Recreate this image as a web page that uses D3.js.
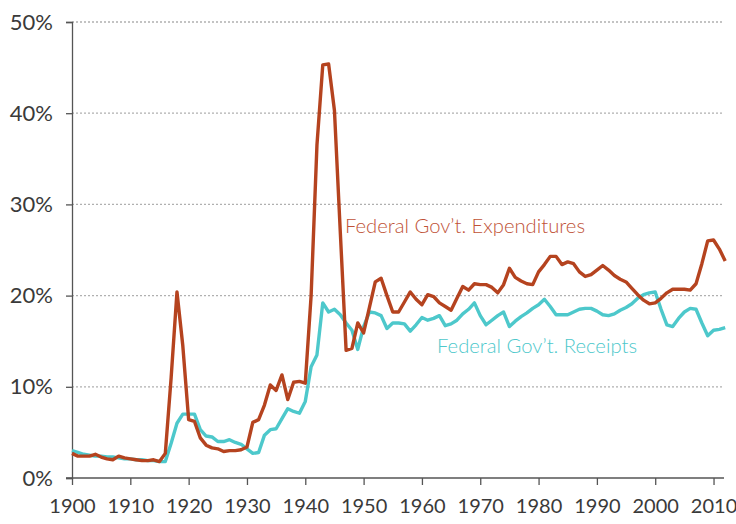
<!DOCTYPE html>
<html>
<head>
<meta charset="utf-8">
<script src="https://cdn.jsdelivr.net/npm/d3@7"></script>
<style>
  html, body { margin: 0; padding: 0; background: #fff; }
  svg { display: block; }
  text { font-family: Lato, "Open Sans", sans-serif; }
</style>
</head>
<body>
<svg id="chart" width="736" height="524"></svg>
<script>
const years = d3.range(1900, 2013);
const expenditures = [
  2.7, 2.4, 2.4, 2.4, 2.6, 2.3, 2.1, 2.0, 2.4, 2.2,
  2.1, 2.0, 1.9, 1.9, 2.0, 1.8, 2.7, 11.0, 20.4, 14.5,
  6.4, 6.2, 4.4, 3.6, 3.3, 3.2, 2.9, 3.0, 3.0, 3.1,
  3.4, 6.1, 6.4, 8.0, 10.2, 9.6, 11.3, 8.6, 10.5, 10.6,
  10.4, 20.0, 36.5, 45.3, 45.4, 40.3, 27.0, 14.0, 14.2, 17.0,
  15.9, 18.7, 21.5, 21.9, 20.0, 18.2, 18.2, 19.3, 20.4, 19.6,
  19.0, 20.1, 19.9, 19.2, 18.8, 18.4, 19.7, 21.0, 20.6, 21.3,
  21.2, 21.2, 20.9, 20.3, 21.2, 23.0, 22.0, 21.6, 21.3, 21.2,
  22.6, 23.4, 24.3, 24.3, 23.4, 23.7, 23.5, 22.6, 22.1, 22.3,
  22.8, 23.3, 22.8, 22.2, 21.8, 21.5, 20.8, 20.1, 19.5, 19.1,
  19.2, 19.7, 20.3, 20.7, 20.7, 20.7, 20.6, 21.3, 23.5, 26.0,
  26.1, 25.1, 23.8
];
const receipts = [
  3.0, 2.8, 2.6, 2.5, 2.4, 2.4, 2.3, 2.3, 2.2, 2.1,
  2.1, 2.0, 2.0, 1.9, 1.9, 1.8, 1.8, 3.8, 6.0, 7.0,
  7.0, 7.0, 5.3, 4.6, 4.5, 4.0, 4.0, 4.2, 3.9, 3.7,
  3.2, 2.7, 2.8, 4.7, 5.3, 5.4, 6.5, 7.6, 7.3, 7.1,
  8.4, 12.2, 13.5, 19.2, 18.2, 18.5, 17.9, 17.0, 16.2, 14.1,
  16.6, 18.2, 18.1, 17.8, 16.4, 17.0, 17.0, 16.9, 16.1, 16.8,
  17.6, 17.3, 17.5, 17.8, 16.7, 16.9, 17.3, 18.0, 18.5, 19.2,
  17.8, 16.8, 17.3, 17.8, 18.2, 16.6, 17.2, 17.7, 18.1, 18.6,
  19.0, 19.6, 18.8, 17.9, 17.9, 17.9, 18.2, 18.5, 18.6, 18.6,
  18.3, 17.9, 17.8, 18.0, 18.4, 18.7, 19.1, 19.7, 20.1, 20.3,
  20.4, 18.5, 16.8, 16.6, 17.5, 18.2, 18.6, 18.5, 17.0, 15.6,
  16.2, 16.3, 16.5
];
const xTicks = [1900, 1910, 1920, 1930, 1940, 1950, 1960, 1970, 1980, 1990, 2000, 2010];
const yTicks = [0, 10, 20, 30, 40, 50];
const seriesLabels = ["Federal Gov\u2019t. Expenditures", "Federal Gov\u2019t. Receipts"];

const expColor = "#b5431f";
const recColor = "#4dc8cb";

const svg = d3.select("#chart");
const x = d3.scaleLinear().domain([1900, 2012]).range([72, 725.2]);
const y = d3.scaleLinear().domain([0, 50]).range([478, 22]);

// gridlines
svg.append("g").selectAll("line")
  .data(yTicks.filter(d => d > 0))
  .join("line")
  .attr("x1", 72).attr("x2", 724)
  .attr("y1", d => y(d)).attr("y2", d => y(d))
  .attr("stroke", "#b0b0b0").attr("stroke-width", 1.3)
  .attr("stroke-dasharray", "2,2");

// y axis
const yAxis = svg.append("g").attr("transform", "translate(72,0)")
  .call(d3.axisLeft(y).tickValues(yTicks).tickFormat(d => d + "%").tickSize(6).tickPadding(13));
yAxis.select(".domain").attr("stroke", "#555").attr("stroke-width", 1.3);
yAxis.selectAll(".tick line").attr("stroke", "#555").attr("stroke-width", 1.3);
yAxis.selectAll("text").attr("font-size", 22).attr("fill", "#3a3a3a").attr("font-weight", 400);

// x axis
const xAxis = svg.append("g").attr("transform", "translate(0,478)")
  .call(d3.axisBottom(x).tickValues(xTicks).tickFormat(d3.format("d")).tickSize(7).tickSizeOuter(0).tickPadding(14));
xAxis.select(".domain").attr("stroke", "#555").attr("stroke-width", 1.3).attr("d", "M66,0H724");
xAxis.selectAll(".tick line").attr("stroke", "#555").attr("stroke-width", 1.3);
xAxis.selectAll("text").attr("font-size", 20).attr("fill", "#3a3a3a").attr("font-weight", 400);

const line = d3.line().x((d, i) => x(years[i])).y(d => y(d));

svg.append("path").datum(receipts)
  .attr("d", line).attr("fill", "none")
  .attr("stroke", recColor).attr("stroke-width", 3.4)
  .attr("stroke-linejoin", "round");

svg.append("path").datum(expenditures)
  .attr("d", line).attr("fill", "none")
  .attr("stroke", expColor).attr("stroke-width", 3.4)
  .attr("stroke-linejoin", "round");

svg.append("text").attr("x", 345).attr("y", 233)
  .attr("font-size", 20).attr("font-weight", 300).attr("fill", "#c05236")
  .attr("textLength", 240).attr("lengthAdjust", "spacingAndGlyphs")
  .text(seriesLabels[0]);

svg.append("text").attr("x", 437).attr("y", 353)
  .attr("font-size", 20).attr("font-weight", 300).attr("fill", recColor)
  .attr("textLength", 200).attr("lengthAdjust", "spacingAndGlyphs")
  .text(seriesLabels[1]);
</script>
</body>
</html>
